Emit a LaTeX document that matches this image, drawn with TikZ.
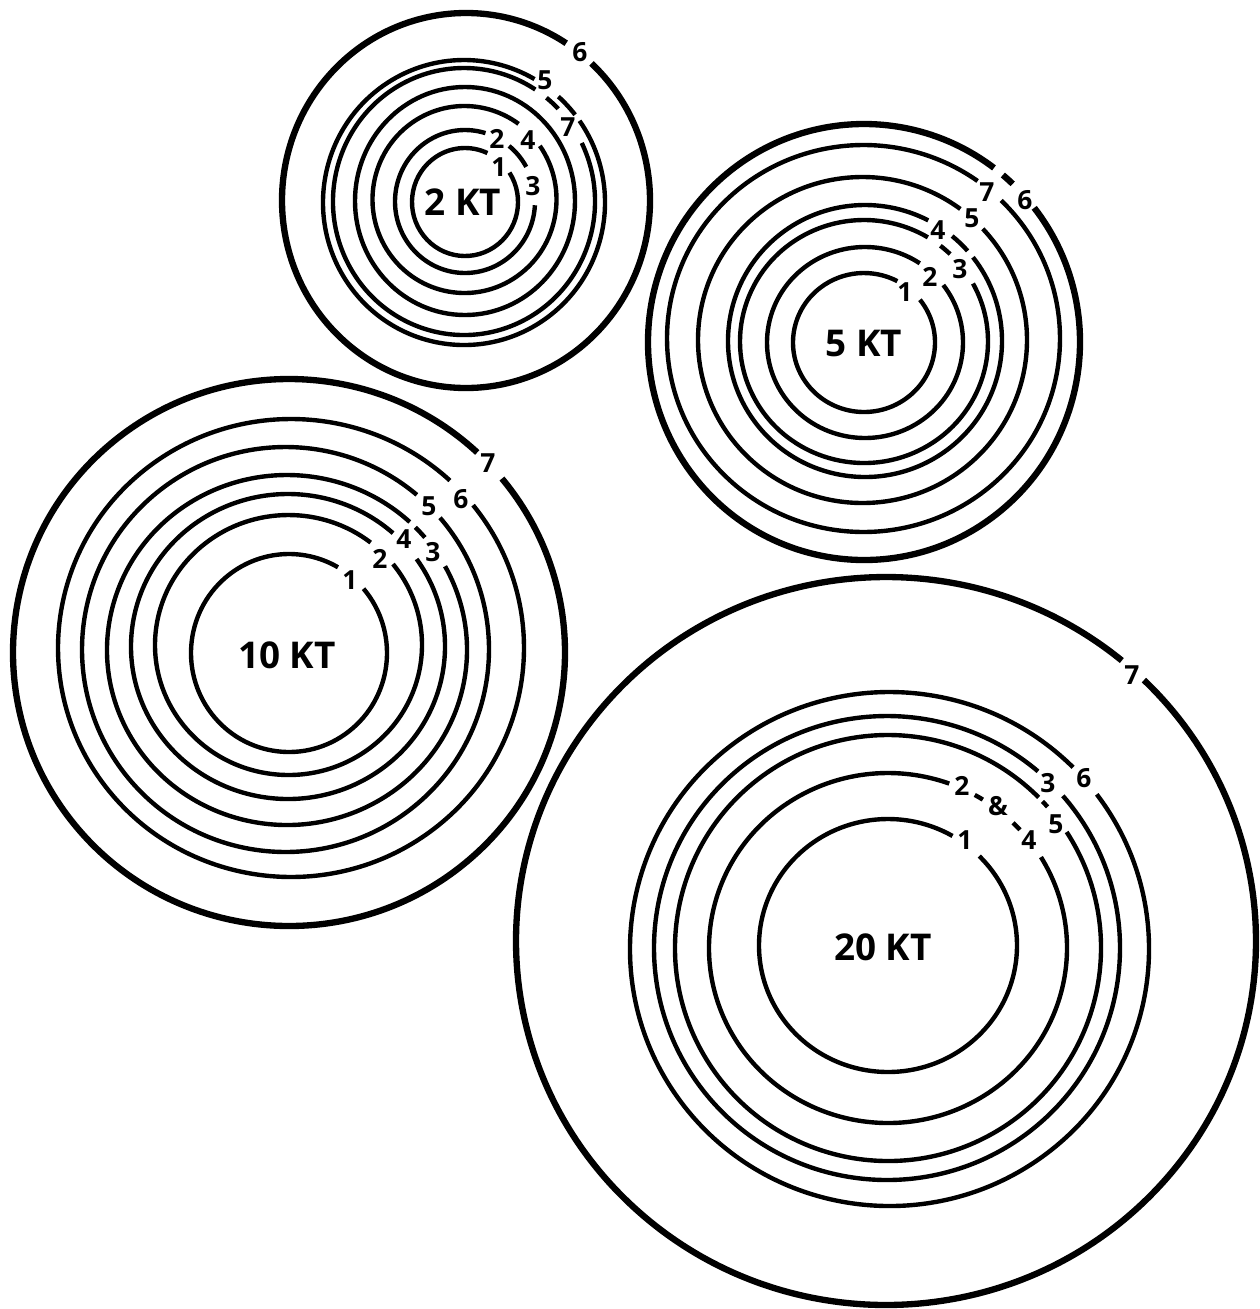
\documentclass[tikz,border=0pt]{standalone}
\usepackage{fontspec}
\setmainfont{Open Sans}
\begin{document}
\begin{tikzpicture}[x=0.02cm, y=-0.02cm]

	% Define styles
	\tikzstyle{ring} = [line width=2.5pt]
	\tikzstyle{rim} = [line width=3.6pt]
	\tikzstyle{num} = [inner sep=0pt, font=\bfseries\fontsize{15}{15}\selectfont]
	\tikzstyle{yield} = [inner sep=0pt, font=\bfseries\fontsize{21}{21}\selectfont]

	\useasboundingbox (0,0) rectangle (1260,1309);

	% 2 KT contours
	\foreach \cx/\cy/\rx/\ry/\a/\b in {
		465/202/53/54/-33/295,
		465/201.5/70/71.5/3/287,
		465/201.5/70/71.5/-51/-29,
		464.5/199.5/92/93.5/-35/306,
		465/201/110/114/0/360,
		464/201.5/131/133.5/-26/303,
		464/201.5/131/133.5/-51/-44,
		464/202.5/141/142.5/-35/300,
		464/202.5/141/142.5/-48/-38}
	\draw[ring] (\cx,\cy) ++({\rx*cos(\a)},{\ry*sin(\a)}) arc[start angle=\a, end angle=\b, x radius=\rx, y radius=\ry];
	\draw[rim] (466,200.5) ++({184*cos(-47)},{187.5*sin(-47)}) arc[start angle=-47, end angle=303, x radius=184, y radius=187.5];

	\node[yield] (kt2) at (463,202) {2 KT};
	\node[num] (kt2n1) at (499,167) {1};
	\node[num] (kt2n2) at (497,139) {2};
	\node[num] (kt2n3) at (533,186) {3};
	\node[num] (kt2n4) at (528,140) {4};
	\node[num] (kt2n5) at (545,80) {5};
	\node[num] (kt2n6) at (580,52) {6};
	\node[num] (kt2n7) at (568,127) {7};

	% 5 KT contours
	\foreach \cx/\cy/\rx/\ry/\a/\b in {
		864/342.5/71/69.5/-38/298,
		865/342.5/98/95.5/-37/304,
		864/341.5/124/121.5/-28.5/301,
		864/341.5/124/121.5/-52/-46,
		865/341/137/136/-38/297.5,
		865/341/137/136/-50.5/-41.5,
		862.5/340/164.5/163/-43/306.5,
		863.5/338.5/196.5/193.5/-45.5/305.5}
	\draw[ring] (\cx,\cy) ++({\rx*cos(\a)},{\ry*sin(\a)}) arc[start angle=\a, end angle=\b, x radius=\rx, y radius=\ry];
	\foreach \a/\b in {-38/307, -50/-46.5}
	\draw[rim] (864,342) ++({216*cos(\a)},{218*sin(\a)}) arc[start angle=\a, end angle=\b, x radius=216, y radius=218];

	\node[yield] (kt5) at (864,344) {5 KT};
	\node[num] (kt5n1) at (905,292) {1};
	\node[num] (kt5n2) at (930,277) {2};
	\node[num] (kt5n3) at (960,269) {3};
	\node[num] (kt5n4) at (938,230) {4};
	\node[num] (kt5n5) at (972,218) {5};
	\node[num] (kt5n6) at (1025,200) {6};
	\node[num] (kt5n7) at (987,192) {7};

	% 10 KT contours
	\foreach \cx/\cy/\rx/\ry/\a/\b in {
		289/653/98/99/-40.5/300,
		288.5/645/133.5/130/-38.5/308,
		288/646.5/157/152.5/-35/312,
		287/650/180/175/-28.6/313,
		287/650/180/175/-44.5/-40,
		285.5/649.5/203.5/202.5/-40.6/310.2,
		291/648/233/229/-38.6/313}
	\draw[ring] (\cx,\cy) ++({\rx*cos(\a)},{\ry*sin(\a)}) arc[start angle=\a, end angle=\b, x radius=\rx, y radius=\ry];
	\draw[rim] (289,652.5) ++({276*cos(-39.5)},{273.5*sin(-39.5)}) arc[start angle=-39.5, end angle=313, x radius=276, y radius=273.5];

	\node[yield] (kt10) at (287,655) {10 KT};
	\node[num] (kt10n1) at (350,580) {1};
	\node[num] (kt10n2) at (380,559) {2};
	\node[num] (kt10n3) at (433,552) {3};
	\node[num] (kt10n4) at (404,539) {4};
	\node[num] (kt10n5) at (429,506) {5};
	\node[num] (kt10n6) at (461,499) {6};
	\node[num] (kt10n7) at (488,463) {7};

	% 20 KT contours
	\foreach \cx/\cy/\rx/\ry/\a/\b in {
		888/945.5/129/126.5/-45/300,
		888/948/179/175/-31.3/290,
		888/948/179/175/-61/-58,
		888/948/179/175/-45.7/-42.5,
		888/948/213/213/-33/315,
		888/948/213/213/-43.5/-41.5,
		887/948/233/232/-41/310.4,
		889.5/949/259.5/257/-37/315}
	\draw[ring] (\cx,\cy) ++({\rx*cos(\a)},{\ry*sin(\a)}) arc[start angle=\a, end angle=\b, x radius=\rx, y radius=\ry];
	\draw[rim] (886,941) ++({370*cos(-45.8)},{364*sin(-45.8)}) arc[start angle=-45.8, end angle=309.6, x radius=370, y radius=364];

	\node[yield] (kt20) at (883,947) {20 KT};
	\node[num] (kt20n1) at (965,840) {1};
	\node[num] (kt20n2) at (962,786) {2};
	\node[num] (kt20amp) at (998,806) {\&};
	\node[num] (kt20n4) at (1029,840) {4};
	\node[num] (kt20n3) at (1048,783) {3};
	\node[num] (kt20n5) at (1056,824) {5};
	\node[num] (kt20n6) at (1084,778) {6};
	\node[num] (kt20n7) at (1132,675) {7};

\end{tikzpicture}
\end{document}
